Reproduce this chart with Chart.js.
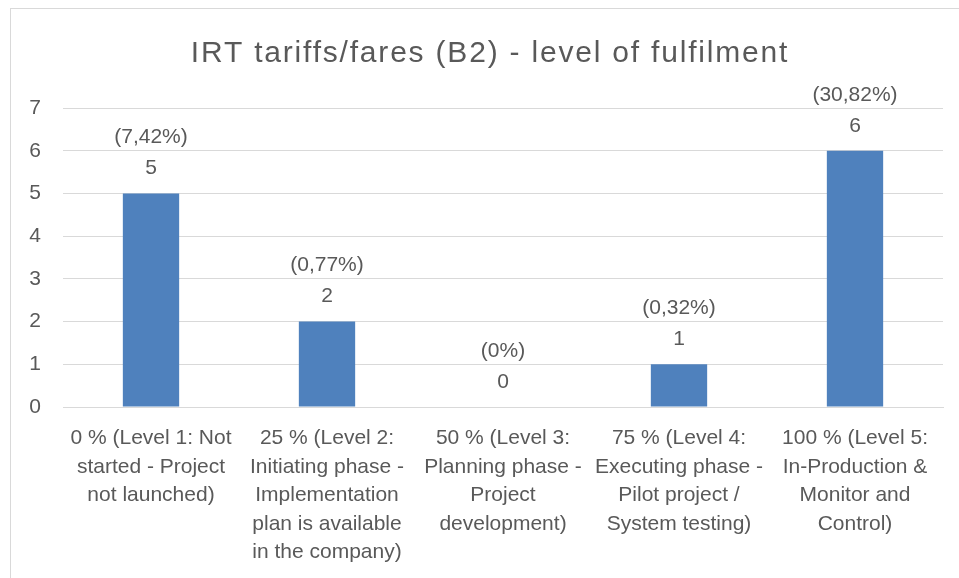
<!DOCTYPE html>
<html>
<head>
<meta charset="utf-8">
<script src="https://cdn.jsdelivr.net/npm/chart.js@4"></script>
<style>
    html, body { margin: 0; padding: 0; background: #fff; overflow: hidden; }
    #frame {
        position: absolute;
        left: 10px;
        top: 8px;
        width: 960px;
        height: 580px;
        border: 1px solid #d9d9d9;
        box-sizing: border-box;
    }
    #chartBox { position: absolute; left: 0; top: 0; width: 959px; height: 570px; }
</style>
</head>
<body>
<div id="frame">
    <div id="chartBox"><canvas id="levelChart"></canvas></div>
</div>
<script>
const chartTitle = 'IRT tariffs/fares (B2) - level of fulfilment';
const levelLabels = [
    ['0 % (Level 1: Not', 'started - Project', 'not launched)'],
    ['25 % (Level 2:', 'Initiating phase -', 'Implementation', 'plan is available', 'in the company)'],
    ['50 % (Level 3:', 'Planning phase -', 'Project', 'development)'],
    ['75 % (Level 4:', 'Executing phase -', 'Pilot project /', 'System testing)'],
    ['100 % (Level 5:', 'In-Production &', 'Monitor and', 'Control)']
];
const companyCounts = [5, 2, 0, 1, 6];
const shareLabels = ['(7,42%)', '(0,77%)', '(0%)', '(0,32%)', '(30,82%)'];

const textColor = '#595959';
const fontFamily = '"Liberation Sans", Arial, sans-serif';

// Title, drawn by hand so it can be letter-spaced
const spacedTitle = {
    id: 'spacedTitle',
    afterDraw(chart) {
        const ctx = chart.ctx;
        ctx.save();
        ctx.fillStyle = textColor;
        ctx.font = '30px ' + fontFamily;
        ctx.letterSpacing = '1.8px';
        ctx.textAlign = 'center';
        ctx.textBaseline = 'middle';
        const mid = (chart.chartArea.left + chart.chartArea.right) / 2;
        ctx.fillText(chartTitle, mid - 13, 45);
        ctx.restore();
    }
};

// Writes the count and the share above each bar
const barLabels = {
    id: 'barLabels',
    afterDatasetsDraw(chart) {
        const ctx = chart.ctx;
        const meta = chart.getDatasetMeta(0);
        ctx.save();
        ctx.fillStyle = textColor;
        ctx.font = '21px ' + fontFamily;
        ctx.textAlign = 'center';
        ctx.textBaseline = 'middle';
        meta.data.forEach((bar, i) => {
            ctx.fillText(String(companyCounts[i]), bar.x, bar.y - 25);
            ctx.fillText(shareLabels[i], bar.x, bar.y - 56);
        });
        ctx.restore();
    }
};

document.addEventListener('DOMContentLoaded', () => {
    const ctx = document.getElementById('levelChart').getContext('2d');
    new Chart(ctx, {
        type: 'bar',
        data: {
            labels: levelLabels,
            datasets: [{
                data: companyCounts,
                backgroundColor: '#4f81bd',
                borderWidth: 0,
                categoryPercentage: 1,
                barPercentage: 0.32
            }]
        },
        options: {
            responsive: true,
            maintainAspectRatio: false,
            animation: false,
            layout: { padding: { left: 0, right: 27, top: 99, bottom: 0 } },
            plugins: {
                legend: { display: false },
                tooltip: { enabled: false },
                title: { display: false }
            },
            scales: {
                x: {
                    grid: { display: false, drawTicks: false },
                    border: { color: '#d9d9d9', width: 1 },
                    ticks: {
                        color: textColor,
                        font: { family: fontFamily, size: 21, lineHeight: 1.357 },
                        padding: 17,
                        maxRotation: 0,
                        autoSkip: false
                    },
                    afterFit: (scale) => { scale.height = 172; }
                },
                y: {
                    min: 0,
                    max: 7,
                    grid: { color: '#d9d9d9', drawTicks: false },
                    border: { display: false },
                    ticks: {
                        stepSize: 1,
                        color: textColor,
                        font: { family: fontFamily, size: 21 },
                        padding: 22
                    },
                    afterFit: (scale) => { scale.width = 52; }
                }
            }
        },
        plugins: [barLabels, spacedTitle]
    });
});
</script>
</body>
</html>
